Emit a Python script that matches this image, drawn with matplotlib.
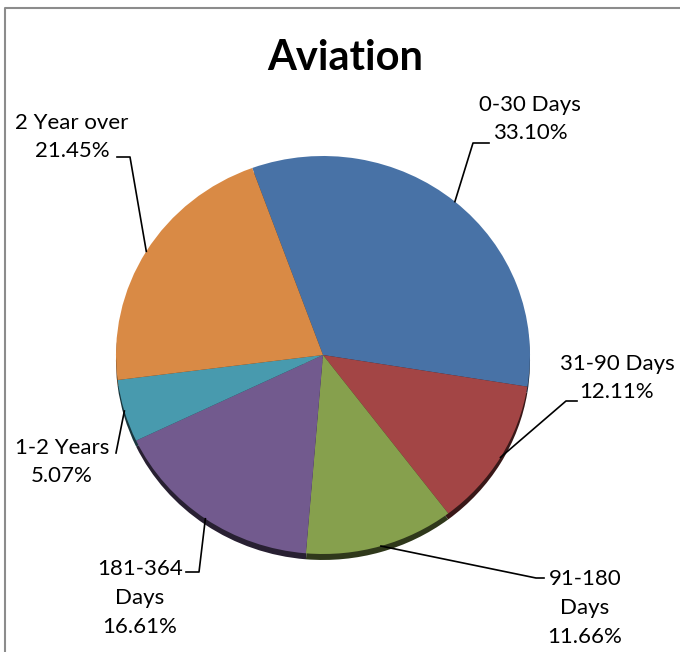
import numpy as np
import matplotlib
matplotlib.use('Agg')
import matplotlib.pyplot as plt
from matplotlib.colors import to_rgb

categories = ['0-30 Days', '31-90 Days', '91-180 Days', '181-364 Days', '1-2 Years', '2 Year over']
shares = [33.10, 12.11, 11.66, 16.61, 5.07, 21.45]
label_texts = ['0-30 Days\n33.10%', '31-90 Days\n12.11%', '91-180\nDays\n11.66%',
               '181-364\nDays\n16.61%', '1-2 Years\n5.07%', '2 Year over\n21.45%']
colors = ['#4872a6', '#a34545', '#86a04d', '#725a8e', '#489aae', '#d98a45']

W, H = 680, 652
CX, CY, RX, RY = 323, 355, 207, 199   # pie ellipse in pixels
START = 110

# label layout: text centre, elbow, end of horizontal tick (pixels)
label_pos = [(530, 119), (617, 378), (585, 608), (140, 598), (62, 462), (72, 137)]
elbows = [(473, 143), (566, 401), (536, 578), (199, 572), (116, 453), (130, 157)]
tick_end = [(489, 143), (577, 401), (544, 578), (186, 572), (116, 453), (117, 157)]

plt.rcParams['font.family'] = ['Lato', 'DejaVu Sans']
fig = plt.figure(figsize=(W / 100, H / 100), dpi=100)

# pie axes sized to the ellipse
pax = fig.add_axes([(CX - RX) / W, 1 - (CY + RY) / H, 2 * RX / W, 2 * RY / H])
dark = [tuple(c * 0.35 for c in to_rgb(col)) for col in colors]
pax.pie(shares, colors=dark, startangle=START, counterclock=False, center=(0, -0.03),
        wedgeprops=dict(linewidth=0))
pax.pie(shares, colors=colors, startangle=START, counterclock=False,
        wedgeprops=dict(linewidth=0))
pax.set_xlim(-1, 1)
pax.set_ylim(-1, 1)
pax.set_aspect('auto')
pax.axis('off')

# overlay axes in pixel coordinates
ax = fig.add_axes([0, 0, 1, 1], zorder=3)
ax.set_xlim(0, W)
ax.set_ylim(H, 0)
ax.axis('off')
ax.patch.set_alpha(0)

# chart frame
ax.plot([5, 5, W], [H, 8, 8], color='#8c8c8c', lw=1.5)

ax.text(345, 58, 'Aviation', ha='center', va='center', fontsize=30, fontweight='bold')

cum = START
for i, s in enumerate(shares):
    mid = np.deg2rad(cum - s * 3.6 / 2)
    cum -= s * 3.6
    anchor = (CX + RX * np.cos(mid), CY - RY * np.sin(mid))
    ex, ey = elbows[i]
    tx, ty = tick_end[i]
    ax.plot([anchor[0], ex, tx], [anchor[1], ey, ty], color='black', lw=1.2)
    ax.text(label_pos[i][0], label_pos[i][1], label_texts[i], ha='center', va='center',
            fontsize=16, linespacing=1.55)

fig.savefig('out.png', dpi=100)
